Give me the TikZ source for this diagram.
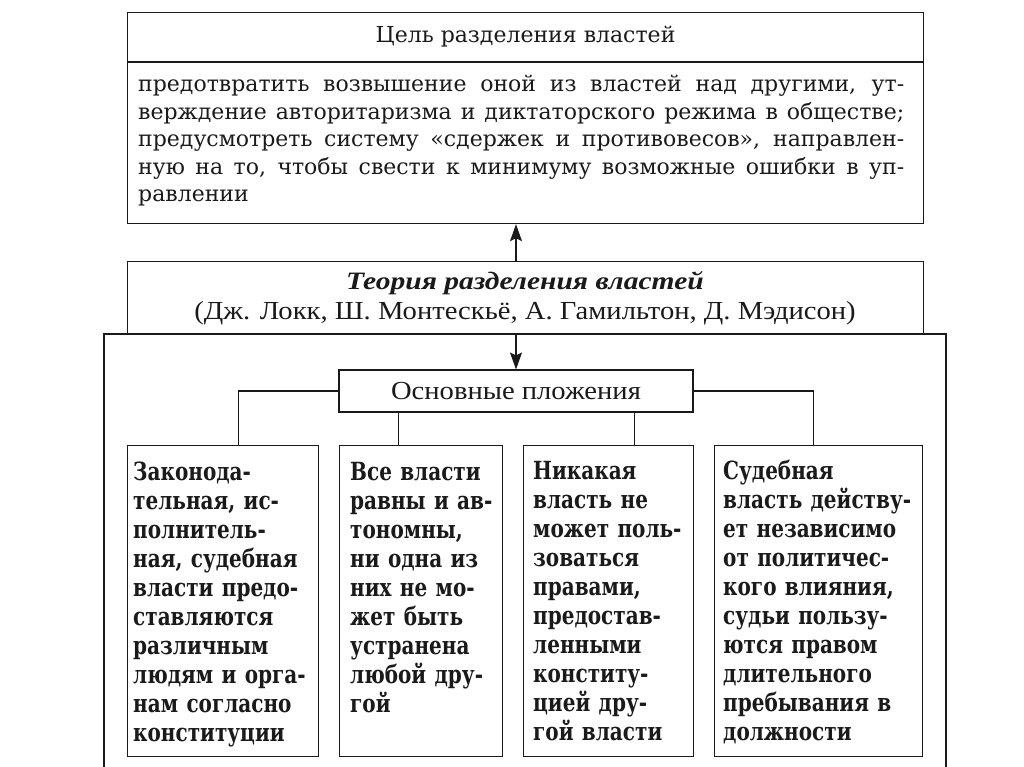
\documentclass[tikz,border=0pt]{standalone}
\usepackage{fontspec}
\setmainfont{Liberation Serif}
\newfontfamily\schoolfont[FakeStretch=0.8]{DejaVu Serif}
\newfontfamily\goalfont{DejaVu Serif}
\newfontfamily\widefont[FakeStretch=1.1]{Liberation Serif}
\newfontfamily\titlefont[FakeStretch=1.18]{Liberation Serif}
\usetikzlibrary{arrows.meta, positioning}
\definecolor{ink}{HTML}{1A1A1A}

\tikzset{
	box/.style={draw=ink, line width=1.1pt, rectangle, inner sep=0pt},
	boxtext/.style={anchor=base west, inner sep=0pt, align=left, text width=220pt,
		font={\schoolfont\bfseries\fontsize{25}{29}\selectfont}},
	goaltext/.style={font={\goalfont\fontsize{22}{27.5}\selectfont}},
	link/.style={draw=ink, line width=1.1pt},
	arrowlink/.style={link, -{Stealth[length=17pt, width=12pt, inset=3pt]}}
}
\newcommand\goalline[1]{\leavevmode\hbox to 766pt{\spaceskip=0.3em plus 1fil\relax #1}}

\begin{document}
\begin{tikzpicture}[x=1pt, y=-1pt, text=ink]
	\useasboundingbox[fill=white] (0,0) rectangle (1024,767);

	\node[box, goaltext, anchor=north west, minimum width=796pt, minimum height=49pt] (goalhead) at (127,12) {Цель разделения властей};
	\node[box, anchor=north west, minimum width=796pt, minimum height=161pt] (goal) at (goalhead.south west) {};
	\node[goaltext, anchor=base west, inner sep=0pt, text width=766pt, align=left] (goalbody) at (138,92) {%
		\goalline{предотвратить возвышение оной из властей над другими, ут-}\\
		\goalline{верждение авторитаризма и диктаторского режима в обществе;}\\
		\goalline{предусмотреть систему «сдержек и противовесов», направлен-}\\
		\goalline{ную на то, чтобы свести к минимуму возможные ошибки в уп-}\\
		равлении};

	\node[box, anchor=north west, minimum width=796pt, minimum height=72pt] (theory) at (127,261) {};
	\node[anchor=base, inner sep=0pt, font={\titlefont\bfseries\itshape\fontsize{25}{30}\selectfont}] (theorytitle) at (525,289) {Теория разделения властей};
	\node[anchor=base, inner sep=0pt, font={\widefont\fontsize{26}{30}\selectfont}] (theoryauthors) at (525,319) {(Дж. Локк, Ш. Монтескьё, А. Гамильтон, Д. Мэдисон)};

	\draw[link] (104,767) |- (946,334) -- (946,767);

	\node[box, minimum width=354pt, minimum height=42pt, font={\widefont\fontsize{26}{30}\selectfont}] (basics) at (516,391) {Основные пложения};

	\node[box, anchor=north west, minimum width=191pt, minimum height=311pt] (law) at (127,445) {};
	\node[box, anchor=north west, minimum width=163pt, minimum height=311pt] (equal) at (339,445) {};
	\node[box, anchor=north west, minimum width=170pt, minimum height=311pt] (noright) at (523,445) {};
	\node[box, anchor=north west, minimum width=208pt, minimum height=311pt] (court) at (714,445) {};

	\node[boxtext] (lawtext) at ([xshift=6pt, yshift=-35pt]law.north west) {Законода-\\тельная, ис-\\полнитель-\\ная, судебная\\власти предо-\\ставляются\\различным\\людям и орга-\\нам согласно\\конституции};
	\node[boxtext] (equaltext) at ([xshift=11pt, yshift=-35pt]equal.north west) {Все власти\\равны и ав-\\тономны,\\ни одна из\\них не мо-\\жет быть\\устранена\\любой дру-\\гой};
	\node[boxtext] (norighttext) at ([xshift=10pt, yshift=-34pt]noright.north west) {Никакая\\власть не\\может поль-\\зоваться\\правами,\\предостав-\\ленными\\конститу-\\цией дру-\\гой власти};
	\node[boxtext] (courttext) at ([xshift=9pt, yshift=-34pt]court.north west) {Судебная\\власть действу-\\ет независимо\\от политичес-\\кого влияния,\\судьи пользу-\\ются правом\\длительного\\пребывания в\\должности};

	\draw[arrowlink] (theory.north -| basics.north) -- (goal.south -| basics.north);
	\draw[arrowlink] (theory.south -| basics.north) -- (basics.north);
	\draw[link] (basics.west) -| ([xshift=15.5pt]law.north);
	\draw[link] (basics.east) -| ([xshift=-5.5pt]court.north);
	\draw[link] ([xshift=-22.5pt]equal.north) -- ([xshift=-22.5pt]equal.north |- basics.south);
	\draw[link] ([xshift=25.5pt]noright.north) -- ([xshift=25.5pt]noright.north |- basics.south);
\end{tikzpicture}
\end{document}
